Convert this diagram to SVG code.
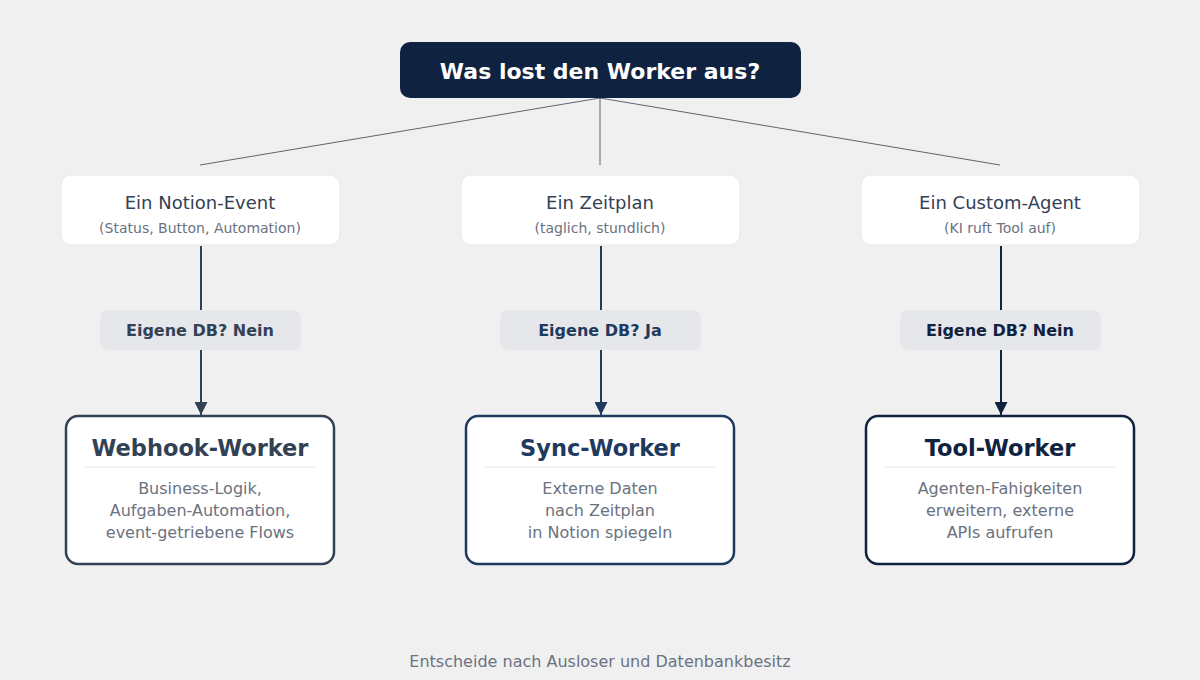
<svg xmlns="http://www.w3.org/2000/svg" width="1200" height="680" viewBox="0 0 1200 680">
<style>
text{font-family:"DejaVu Sans","Noto Sans",sans-serif;text-anchor:middle}
.trig{fill:#fff;stroke:#e5e7eb;stroke-width:1}
.tt{font-size:18px;fill:#334155}
.ts{font-size:14px;fill:#6b7280}
.db{fill:#e5e7eb}
.dbt{font-size:16px;font-weight:bold}
.res{fill:#fff;stroke-width:2.5}
.rt{font-size:22.5px;font-weight:bold}
.rd{font-size:16px;fill:#6b7280}
.sep{stroke:#e5e7eb;stroke-width:1}
</style>
<defs>
<marker id="a1" viewBox="0 0 10 10" refX="10" refY="5" markerWidth="13" markerHeight="13" markerUnits="userSpaceOnUse" orient="auto"><path d="M0,0L10,5L0,10z" fill="#334155"/></marker>
<marker id="a2" viewBox="0 0 10 10" refX="10" refY="5" markerWidth="13" markerHeight="13" markerUnits="userSpaceOnUse" orient="auto"><path d="M0,0L10,5L0,10z" fill="#1e3a5f"/></marker>
<marker id="a3" viewBox="0 0 10 10" refX="10" refY="5" markerWidth="13" markerHeight="13" markerUnits="userSpaceOnUse" orient="auto"><path d="M0,0L10,5L0,10z" fill="#0f2340"/></marker>
</defs>
<rect width="1200" height="680" fill="#f0f0f0"/>
<g id="connectors" fill="none">
<path d="M600,98L200,165M600,98L600,165M600,98L1000,165" stroke="#1e293b" stroke-width="0.7"/>
<path d="M201,246V310M201,350V415" stroke="#334155" stroke-width="2" marker-end="url(#a1)"/>
<path d="M601,246V310M601,350V415" stroke="#1e3a5f" stroke-width="2" marker-end="url(#a2)"/>
<path d="M1001,246V310M1001,350V415" stroke="#0f2340" stroke-width="2" marker-end="url(#a3)"/>
</g>
<g id="title"><rect x="400" y="42" width="401" height="56" rx="10" fill="#0f2340"/><text x="600" y="79" font-size="22" font-weight="bold" fill="#fff">Was lost den Worker aus?</text></g>
<g id="t1"><rect class="trig" x="61" y="175" width="279" height="70" rx="10"/><text class="tt" x="200" y="209">Ein Notion-Event</text><text class="ts" x="200" y="233">(Status, Button, Automation)</text></g>
<g id="t2"><rect class="trig" x="461" y="175" width="279" height="70" rx="10"/><text class="tt" x="600" y="209">Ein Zeitplan</text><text class="ts" x="600" y="233">(taglich, stundlich)</text></g>
<g id="t3"><rect class="trig" x="861" y="175" width="279" height="70" rx="10"/><text class="tt" x="1000" y="209">Ein Custom-Agent</text><text class="ts" x="1000" y="233">(KI ruft Tool auf)</text></g>
<g id="d1"><rect class="db" x="100" y="310" width="201" height="40" rx="8"/><text class="dbt" x="200" y="336" fill="#334155">Eigene DB? Nein</text></g>
<g id="d2"><rect class="db" x="500" y="310" width="201" height="40" rx="8"/><text class="dbt" x="600" y="336" fill="#1e3a5f">Eigene DB? Ja</text></g>
<g id="d3"><rect class="db" x="900" y="310" width="201" height="40" rx="8"/><text class="dbt" x="1000" y="336" fill="#0f2340">Eigene DB? Nein</text></g>
<g id="r1"><rect class="res" x="66" y="416" width="268" height="148" rx="12" stroke="#334155"/><text class="rt" x="200" y="456" fill="#334155">Webhook-Worker</text><line class="sep" x1="85" y1="467" x2="315" y2="467"/><text class="rd" x="200" y="494">Business-Logik,</text><text class="rd" x="200" y="516">Aufgaben-Automation,</text><text class="rd" x="200" y="538">event-getriebene Flows</text></g>
<g id="r2"><rect class="res" x="466" y="416" width="268" height="148" rx="12" stroke="#1e3a5f"/><text class="rt" x="600" y="456" fill="#1e3a5f">Sync-Worker</text><line class="sep" x1="485" y1="467" x2="715" y2="467"/><text class="rd" x="600" y="494">Externe Daten</text><text class="rd" x="600" y="516">nach Zeitplan</text><text class="rd" x="600" y="538">in Notion spiegeln</text></g>
<g id="r3"><rect class="res" x="866" y="416" width="268" height="148" rx="12" stroke="#0f2340"/><text class="rt" x="1000" y="456" fill="#0f2340">Tool-Worker</text><line class="sep" x1="885" y1="467" x2="1115" y2="467"/><text class="rd" x="1000" y="494">Agenten-Fahigkeiten</text><text class="rd" x="1000" y="516">erweitern, externe</text><text class="rd" x="1000" y="538">APIs aufrufen</text></g>
<text x="600" y="667" font-size="16" fill="#6b7280">Entscheide nach Ausloser und Datenbankbesitz</text>
</svg>
